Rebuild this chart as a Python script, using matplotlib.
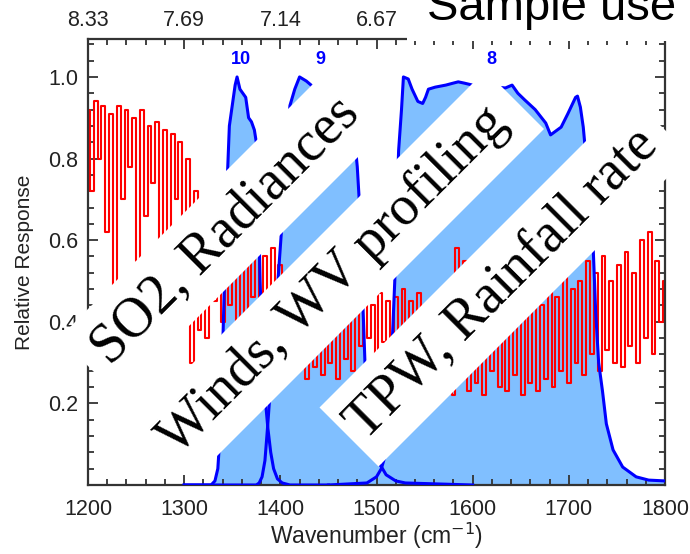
import numpy as np
import matplotlib.pyplot as plt
from matplotlib.patches import Polygon, Rectangle
from matplotlib.ticker import MultipleLocator

plt.rcParams['font.family'] = 'Liberation Sans'

# atmospheric transmittance (red), sampled every 4 cm-1 from 1200 to 1800
trans_wn = np.arange(1200, 1801, 4)
trans = [
    0.92, 0.72, 0.94, 0.80, 0.93, 0.62, 0.91, 0.49, 0.93, 0.70,
    0.92, 0.78, 0.90, 0.55, 0.92, 0.66, 0.88, 0.74, 0.89, 0.52,
    0.87, 0.60, 0.86, 0.70, 0.84, 0.58, 0.80, 0.30, 0.72, 0.38,
    0.68, 0.36, 0.66, 0.45, 0.62, 0.40, 0.64, 0.44, 0.60, 0.38,
    0.62, 0.42, 0.58, 0.46, 0.60, 0.40, 0.56, 0.44, 0.58, 0.36,
    0.54, 0.30, 0.52, 0.28, 0.50, 0.32, 0.48, 0.26, 0.50, 0.29,
    0.46, 0.27, 0.48, 0.30, 0.45, 0.26, 0.47, 0.31, 0.44, 0.28,
    0.48, 0.34, 0.46, 0.36, 0.44, 0.32, 0.47, 0.35, 0.45, 0.33,
    0.46, 0.30, 0.48, 0.34, 0.45, 0.28, 0.47, 0.32, 0.44, 0.26,
    0.46, 0.24, 0.43, 0.28, 0.45, 0.22, 0.58, 0.27, 0.55, 0.23,
    0.45, 0.25, 0.41, 0.22, 0.44, 0.28, 0.40, 0.24, 0.43, 0.23,
    0.46, 0.27, 0.42, 0.22, 0.45, 0.25, 0.48, 0.23, 0.44, 0.26,
    0.50, 0.24, 0.46, 0.28, 0.52, 0.25, 0.48, 0.30, 0.50, 0.27,
    0.55, 0.32, 0.52, 0.28, 0.56, 0.33, 0.50, 0.30, 0.54, 0.29,
    0.57, 0.34, 0.52, 0.30, 0.60, 0.36, 0.62, 0.32, 0.55, 0.40,
    0.50,
]

# spectral response functions
b10_wn = [1300, 1328, 1332, 1335, 1338, 1341, 1344, 1347, 1350, 1353, 1355, 1358, 1361, 1364, 1367,
          1370, 1373, 1375, 1377, 1379, 1381, 1384, 1387, 1390, 1393, 1397, 1402, 1410, 1450]
b10_rsp = [0, 0, 0.01, 0.04, 0.15, 0.42, 0.7, 0.88, 0.93, 0.98, 1.0, 0.97, 0.96, 0.95, 0.9,
           0.89, 0.87, 0.84, 0.7, 0.5, 0.35, 0.22, 0.14, 0.08, 0.04, 0.015, 0.005, 0, 0]

b9_wn = [1300, 1375, 1378, 1381, 1384, 1387, 1390, 1393, 1396, 1399, 1402, 1405, 1410, 1415, 1420,
         1427, 1432, 1440, 1450, 1460, 1470, 1476, 1480, 1482, 1485, 1488, 1492, 1496, 1500, 1505,
         1510, 1520, 1530, 1600]
b9_rsp = [0, 0, 0.005, 0.02, 0.06, 0.15, 0.25, 0.35, 0.45, 0.55, 0.65, 0.8, 0.93, 0.97, 1.0,
          0.99, 0.98, 0.96, 0.95, 0.94, 0.92, 0.88, 0.78, 0.7, 0.5, 0.3, 0.15, 0.09, 0.06, 0.045,
          0.025, 0.01, 0.005, 0]

b8_wn = [1450, 1490, 1500, 1505, 1510, 1513, 1516, 1519, 1521, 1523, 1526, 1528, 1533, 1537, 1543,
         1548, 1551, 1554, 1561, 1572, 1580, 1585, 1591, 1600, 1612, 1625, 1634, 1641, 1647, 1654,
         1665, 1676, 1681, 1692, 1699, 1707, 1709, 1712, 1715, 1718, 1722, 1725, 1728, 1731, 1735,
         1739, 1746, 1756, 1770, 1783, 1800]
b8_rsp = [0, 0.005, 0.02, 0.04, 0.08, 0.15, 0.33, 0.5, 0.68, 0.82, 0.92, 1.0, 0.995, 0.97, 0.94,
          0.935, 0.95, 0.97, 0.975, 0.98, 0.985, 0.988, 0.985, 0.98, 0.975, 0.975, 0.973, 0.98, 0.96, 0.944,
          0.92, 0.887, 0.858, 0.877, 0.91, 0.95, 0.953, 0.926, 0.877, 0.8, 0.7, 0.6, 0.42, 0.3, 0.23,
          0.15, 0.086, 0.044, 0.02, 0.012, 0.01]

band_names = ['10', '9', '8']
band_label_wn = [1359, 1442, 1619]

# wavelength (um) labels on the top axis; the ones past 1500 are hidden by the title box
top_tick_wn = [1200, 1300, 1400, 1500]
top_tick_labels = ['8.33', '7.69', '7.14', '6.67']

uses = ['SO2, Radiances', 'Winds, WV profiling', 'TPW, Rainfall rate']

W, H = 690, 554
fig = plt.figure(figsize=(W / 100, H / 100), dpi=100)
ax = fig.add_axes([88 / W, (H - 485) / H, (665 - 88) / W, (485 - 39) / H])

fill_c = '#80BFFF'
for wn, rsp in [(b10_wn, b10_rsp), (b9_wn, b9_rsp), (b8_wn, b8_rsp)]:
    ax.fill_between(wn, rsp, 0, color=fill_c, lw=0, zorder=1)
ax.plot(trans_wn, trans, color='red', lw=1.5, drawstyle='steps-mid', zorder=2)
for wn, rsp in [(b10_wn, b10_rsp), (b9_wn, b9_rsp), (b8_wn, b8_rsp)]:
    ax.plot(wn, rsp, color='#0000FF', lw=2.2, zorder=3)

for name, wn in zip(band_names, band_label_wn):
    ax.text(wn, 1.042, name, color='#0000FF', fontsize=13, fontweight='bold',
            ha='center', va='center', zorder=4)

ax.set_xlim(1200, 1800)
ax.set_ylim(0, 1.093)
ax.set_xticks(range(1200, 1801, 100))
ax.xaxis.set_minor_locator(MultipleLocator(20))
ax.set_yticks([0.2, 0.4, 0.6, 0.8, 1.0])
ax.set_yticklabels(['0.2', '0.4', '0.6', '0.8', '1.0'])
ax.yaxis.set_minor_locator(MultipleLocator(0.04))
ax.tick_params(which='both', direction='in', right=True, top=True, colors='#333',
               labelcolor='#222', labelsize=15.5, width=1.3)
ax.tick_params(which='major', length=7)
ax.tick_params(which='minor', length=4)
ax.tick_params(axis='x', pad=10)
ax.tick_params(axis='y', pad=7)
for sp in ax.spines.values():
    sp.set_linewidth(1.6)
    sp.set_color('#333')

secax = ax.secondary_xaxis('top')
secax.set_xticks(top_tick_wn)
secax.set_xticklabels(top_tick_labels)
secax.tick_params(which='both', direction='in', length=0, labelcolor='#222',
                  labelsize=15.5, pad=6)
secax.spines['top'].set_visible(False)

ax.set_xlabel('Wavenumber (cm$^{-1}$)', fontsize=16.5, color='#222', labelpad=1)
ax.set_ylabel('Relative Response', fontsize=15, color='#222', labelpad=10)


def px(x, y):
    return (x / W, 1 - y / H)


# white diagonal stripes with sample uses (pixel sums s=x+y, diffs d=x-y)
stripes = [(397, 515, -278, 268), (556, 673, -290, 415), (727, 845, -88, 535)]
centers = [(225, 231), (333, 281), (502, 284)]
for (s0, s1, d0, d1), (cx, cy), txt in zip(stripes, centers, uses):
    pts = [((s + d) / 2, (s - d) / 2) for s, d in [(s0, d0), (s0, d1), (s1, d1), (s1, d0)]]
    fig.add_artist(Polygon([px(x, y) for x, y in pts], closed=True, transform=fig.transFigure,
                           facecolor='white', edgecolor='none', zorder=10))
    fig.text(*px(cx, cy), txt, rotation=45, rotation_mode='anchor', ha='center', va='center',
             fontsize=40, family='Liberation Serif', color='black', zorder=11)

fig.add_artist(Rectangle(px(407, 40.5), (W - 407) / W, 40.5 / H, transform=fig.transFigure,
                         facecolor='white', edgecolor='none', zorder=10))
fig.text(*px(427, 20), 'Sample use', ha='left', va='baseline', fontsize=34,
         color='black', zorder=11)

fig.savefig('out.png', dpi=100)
